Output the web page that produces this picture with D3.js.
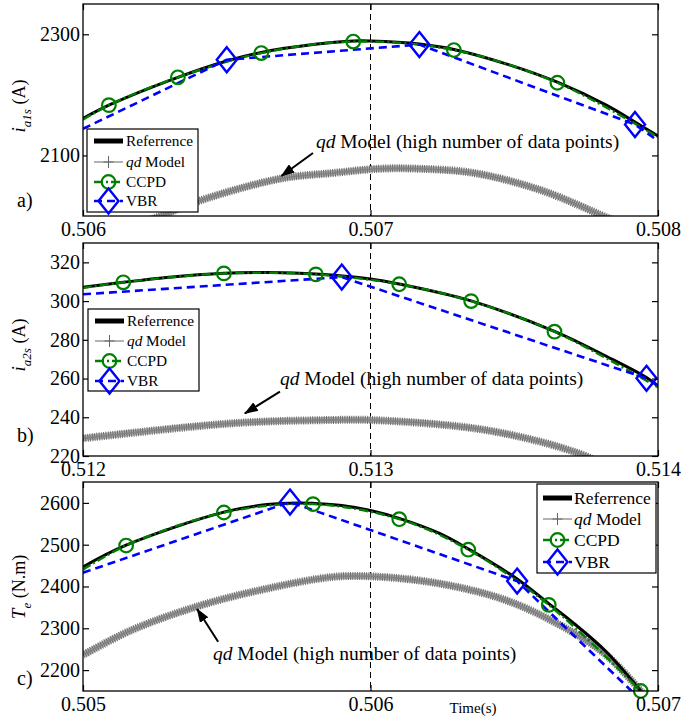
<!DOCTYPE html>
<html><head><meta charset="utf-8">
<script src="https://cdn.jsdelivr.net/npm/d3@7"></script>
<style>
body{margin:0;background:#fff}
svg{display:block}
text{font-family:"Liberation Serif","Times New Roman",serif;fill:#000}
</style>
</head><body>
<svg id="chart" width="681" height="717"></svg>
<script>
// ---------- DATA ----------
// Panel a: i_a1s (A)
const xTicksA = [0.506, 0.507, 0.508];
const yTicksA = [2100, 2300];
const refA = [[0.5060,2161],[0.50609,2183],[0.50633,2229],[0.5065,2256],[0.50662,2270],[0.5068,2283],[0.50694,2289],[0.5070,2289],[0.50717,2284],[0.50729,2275],[0.50748,2250],[0.50765,2221],[0.50782,2183],[0.50792,2155],[0.5080,2132]];
const ccpdA = [[0.5060,2159],[0.50609,2183],[0.50633,2229],[0.50662,2269],[0.50694,2288],[0.50729,2274],[0.50765,2220],[0.5080,2130]];
const vbrA = [[0.5060,2144],[0.5065,2258],[0.50717,2283],[0.50792,2151],[0.5080,2124]];
const qdA = [[0.50622,1992],[0.50627,2000],[0.50641,2026],[0.50669,2062],[0.50687,2071],[0.50703,2078],[0.50717,2078],[0.50736,2071],[0.50759,2043],[0.50782,1998],[0.50786,1990]];

// Panel b: i_a2s (A)
const xTicksB = [0.512, 0.513, 0.514];
const yTicksB = [220, 240, 260, 280, 300, 320];
const refB = [[0.512,307.1],[0.51214,309.7],[0.51229,312.2],[0.51249,314.4],[0.51265,314.8],[0.51281,314.0],[0.5130,311.4],[0.5131,308.8],[0.51335,300.1],[0.51364,284.4],[0.51382,271.5],[0.51396,260.5],[0.5140,256.0]];
const ccpdB = [[0.512,306.8],[0.51214,309.7],[0.51249,314.3],[0.51281,313.8],[0.5131,308.7],[0.51335,300.0],[0.51364,284.2],[0.5140,255.5]];
const vbrB = [[0.512,303.5],[0.5129,312.4],[0.51396,260.1],[0.5140,256.5]];
const qdB = [[0.512,229.1],[0.51252,236.9],[0.51287,238.6],[0.5130,238.6],[0.51336,234.3],[0.51359,227.4],[0.51374,220.5],[0.51377,218.5]];

// Panel c: T_e (N.m)
const xTicksC = [0.505, 0.506, 0.507];
const yTicksC = [2200, 2300, 2400, 2500, 2600];
const refC = [[0.505,2447],[0.50515,2499],[0.50549,2578],[0.50564,2596],[0.50575,2600],[0.5058,2599],[0.5059,2594],[0.5060,2582],[0.5061,2563],[0.50624,2527],[0.50634,2490],[0.50651,2418],[0.50662,2359],[0.5067,2316],[0.50682,2244],[0.50694,2150],[0.50697,2125]];
const ccpdC = [[0.505,2440],[0.50515,2498],[0.50549,2577],[0.5058,2597],[0.5061,2561],[0.50634,2488],[0.50662,2356],[0.50694,2150],[0.50697,2128]];
const vbrC = [[0.505,2433],[0.50572,2602],[0.50651,2413],[0.50692,2142]];
const qdC = [[0.505,2236],[0.50517,2296],[0.50541,2355],[0.50564,2395],[0.50587,2423],[0.50601,2424],[0.50624,2407],[0.50648,2365],[0.5067,2292],[0.50682,2236],[0.50694,2150],[0.50697,2125]];

const legendLabels = ["Referrence", "qd Model", "CCPD", "VBR"];
const annotationText = ["qd", " Model (high number of data points)"];

// ---------- LAYOUT ----------
const L = 83, R = 658;
const panels = [
  {tag:"a)", top:4, bottom:216, xd:[0.506,0.508], yd:[2000,2350], xt:xTicksA, yt:yTicksA,
   ref:refA, ccpd:ccpdA, vbr:vbrA, qd:qdA,
   ylab:{main:"i", sub:"a1s", rest:" (A)", y:106}, tagY:207,
   legend:{x:87,y:129,w:111,h:83,rows:[141,162,182,201],s0:94,s1:123,tx:126,fs:15.3},
   ann:{tx:0.50681, ty:2112, a0:[0.5068,2104], a1:[0.50669,2066]}},
  {tag:"b)", top:243, bottom:456, xd:[0.512,0.514], yd:[220,330], xt:xTicksB, yt:yTicksB,
   ref:refB, ccpd:ccpdB, vbr:vbrB, qd:qdB,
   ylab:{main:"i", sub:"a2s", rest:" (A)", y:345}, tagY:442,
   legend:{x:88,y:309,w:111,h:82,rows:[321,341,361,381],s0:95,s1:124,tx:127,fs:15.3},
   ann:{tx:0.512685, ty:256.7, a0:[0.512685,253.2], a1:[0.512563,242.0]}},
  {tag:"c)", top:482, bottom:691, xd:[0.505,0.507], yd:[2150,2650], xt:xTicksC, yt:yTicksC,
   ref:refC, ccpd:ccpdC, vbr:vbrC, qd:qdC,
   ylab:{main:"T", sub:"e", rest:" (N.m)", y:587}, tagY:685,
   legend:{x:537,y:484,w:119,h:89,rows:[498,519,540,562],s0:543,s1:572,tx:574,fs:17.5},
   ann:{tx:0.505452, ty:2224, a0:[0.50547,2268], a1:[0.505397,2346]}}
];

const GREEN = "#008000", BLUE = "#0000ff";
const svg = d3.select("#chart");
const defs = svg.append("defs");
defs.append("marker").attr("id","arrow").attr("markerUnits","userSpaceOnUse")
  .attr("viewBox","0 0 14 10").attr("refX",13).attr("refY",5)
  .attr("markerWidth",14).attr("markerHeight",10).attr("orient","auto")
  .append("path").attr("d","M0,0 L14,5 L0,10 Z").attr("fill","#000");

function diamondPath(cx, cy, hw, hh){
  return `M${cx},${cy-hh} L${cx+hw},${cy} L${cx},${cy+hh} L${cx-hw},${cy} Z`;
}

panels.forEach((p, i) => {
  const x = d3.scaleLinear().domain(p.xd).range([L, R]);
  const y = d3.scaleLinear().domain(p.yd).range([p.bottom, p.top]);
  const g = svg.append("g");
  const clipId = "clip" + i;
  defs.append("clipPath").attr("id", clipId).append("rect")
    .attr("x", L).attr("y", p.top).attr("width", R - L).attr("height", p.bottom - p.top);

  const plot = g.append("g").attr("clip-path", `url(#${clipId})`);
  // vertical dashed marker line at middle tick
  plot.append("line").attr("x1", x(p.xt[1])).attr("x2", x(p.xt[1]))
    .attr("y1", p.top).attr("y2", p.bottom)
    .attr("stroke", "#000").attr("stroke-width", 1).attr("stroke-dasharray", "6,4");

  const smooth = d3.line().x(d => x(d[0])).y(d => y(d[1])).curve(d3.curveCatmullRom.alpha(0.5));
  const straight = d3.line().x(d => x(d[0])).y(d => y(d[1]));

  // qd model band (dense + markers)
  plot.append("path").attr("d", smooth(p.qd)).attr("fill","none")
    .attr("stroke", "#a8a8a8").attr("stroke-width", 6);
  plot.append("path").attr("d", smooth(p.qd)).attr("fill","none")
    .attr("stroke", "#6e6e6e").attr("stroke-width", 8).attr("stroke-dasharray", "1,1.3");
  plot.append("path").attr("d", smooth(p.qd)).attr("fill","none")
    .attr("stroke", "#808080").attr("stroke-width", 1.6);

  // reference
  plot.append("path").attr("d", smooth(p.ref)).attr("fill","none")
    .attr("stroke", "#000").attr("stroke-width", 3);
  // CCPD
  plot.append("path").attr("d", smooth(p.ccpd)).attr("fill","none")
    .attr("stroke", GREEN).attr("stroke-width", 2.4).attr("stroke-dasharray", "9,3,2,3");
  // VBR
  plot.append("path").attr("d", straight(p.vbr)).attr("fill","none")
    .attr("stroke", BLUE).attr("stroke-width", 2.6).attr("stroke-dasharray", "8,5");

  const inside = d => d[0] > p.xd[0] && d[0] < p.xd[1] && d[1] >= p.yd[0] - 1e-9 && d[1] <= p.yd[1];
  g.selectAll(null).data(p.ccpd.filter(inside)).join("circle")
    .attr("cx", d => x(d[0])).attr("cy", d => y(d[1])).attr("r", 6.8)
    .attr("fill", "none").attr("stroke", GREEN).attr("stroke-width", 2.2);
  g.selectAll(null).data(p.vbr.filter(inside)).join("path")
    .attr("d", d => diamondPath(x(d[0]), y(d[1]), 10, 12.5))
    .attr("fill", "none").attr("stroke", BLUE).attr("stroke-width", 2.4);

  // frame
  g.append("rect").attr("x", L).attr("y", p.top).attr("width", R - L).attr("height", p.bottom - p.top)
    .attr("fill", "none").attr("stroke", "#000").attr("stroke-width", 1.3);

  // axes
  const yAxisL = d3.axisLeft(y).tickValues(p.yt).tickSize(-6).tickPadding(3).tickFormat(d3.format("d"));
  const yAxisR = d3.axisRight(y).tickValues(p.yt).tickSize(-6).tickFormat("");
  const xAxisB = d3.axisBottom(x).tickValues(p.xt).tickSize(-6).tickPadding(6).tickFormat(d3.format(".3f"));
  const xAxisT = d3.axisTop(x).tickValues(p.xt).tickSize(-6).tickFormat("");
  [[yAxisL, `translate(${L},0)`], [yAxisR, `translate(${R},0)`],
   [xAxisB, `translate(0,${p.bottom})`], [xAxisT, `translate(0,${p.top})`]].forEach(([ax, tr]) => {
    const a = g.append("g").attr("transform", tr).call(ax);
    a.attr("font-family", null).attr("font-size", null);
    a.select(".domain").remove();
    a.selectAll("line").attr("stroke", "#000").attr("stroke-width", 1.2);
    a.selectAll("text").attr("font-size", 20).attr("fill", "#000");
  });

  // y label
  const yl = g.append("text").attr("transform", `translate(25,${p.ylab.y}) rotate(-90)`)
    .attr("text-anchor", "middle").attr("font-size", 18);
  yl.append("tspan").attr("font-style", "italic").attr("font-size", 19).text(p.ylab.main);
  yl.append("tspan").attr("font-style", "italic").attr("font-size", 13).attr("dy", 6).text(p.ylab.sub);
  yl.append("tspan").attr("dy", -6).text(p.ylab.rest);

  // panel tag
  g.append("text").attr("x", 17).attr("y", p.tagY).attr("font-size", 20).text(p.tag);

  // annotation
  const at = g.append("text").attr("x", x(p.ann.tx)).attr("y", y(p.ann.ty)).attr("font-size", 19.5);
  at.append("tspan").attr("font-style", "italic").text(annotationText[0]);
  at.append("tspan").text(annotationText[1]);
  g.append("line").attr("x1", x(p.ann.a0[0])).attr("y1", y(p.ann.a0[1]))
    .attr("x2", x(p.ann.a1[0])).attr("y2", y(p.ann.a1[1]))
    .attr("stroke", "#000").attr("stroke-width", 2).attr("marker-end", "url(#arrow)");

  // legend
  const lg = p.legend;
  const leg = g.append("g");
  leg.append("rect").attr("x", lg.x).attr("y", lg.y).attr("width", lg.w).attr("height", lg.h)
    .attr("fill", "#fff").attr("stroke", "#000").attr("stroke-width", 1.2);
  const mx = (lg.s0 + lg.s1) / 2;
  leg.append("line").attr("x1", lg.s0).attr("x2", lg.s1).attr("y1", lg.rows[0]).attr("y2", lg.rows[0])
    .attr("stroke", "#000").attr("stroke-width", 5);
  leg.append("line").attr("x1", lg.s0).attr("x2", lg.s1).attr("y1", lg.rows[1]).attr("y2", lg.rows[1])
    .attr("stroke", "#666").attr("stroke-width", 1);
  leg.append("path").attr("d", `M${mx-5},${lg.rows[1]} H${mx+5} M${mx},${lg.rows[1]-6} V${lg.rows[1]+6}`)
    .attr("stroke", "#666").attr("stroke-width", 1);
  leg.append("line").attr("x1", lg.s0).attr("x2", lg.s1).attr("y1", lg.rows[2]).attr("y2", lg.rows[2])
    .attr("stroke", GREEN).attr("stroke-width", 2.6).attr("stroke-dasharray", "9,3,2,3");
  leg.append("circle").attr("cx", mx).attr("cy", lg.rows[2]).attr("r", 6.8)
    .attr("fill", "none").attr("stroke", GREEN).attr("stroke-width", 2.2);
  leg.append("line").attr("x1", lg.s0).attr("x2", lg.s1).attr("y1", lg.rows[3]).attr("y2", lg.rows[3])
    .attr("stroke", BLUE).attr("stroke-width", 2.6).attr("stroke-dasharray", "8,5");
  leg.append("path").attr("d", diamondPath(mx, lg.rows[3], 10, 12.5))
    .attr("fill", "none").attr("stroke", BLUE).attr("stroke-width", 2.4);
  legendLabels.forEach((lab, k) => {
    const t = leg.append("text").attr("x", lg.tx).attr("y", lg.rows[k]).attr("dy", "0.35em").attr("font-size", lg.fs);
    if (k === 1) {
      t.append("tspan").attr("font-style", "italic").text(lab.slice(0, 2));
      t.append("tspan").text(lab.slice(2));
    } else t.text(lab);
  });
});

svg.append("text").attr("x", 473).attr("y", 713).attr("text-anchor", "middle").attr("font-size", 15).text("Time(s)");
</script>
</body></html>
